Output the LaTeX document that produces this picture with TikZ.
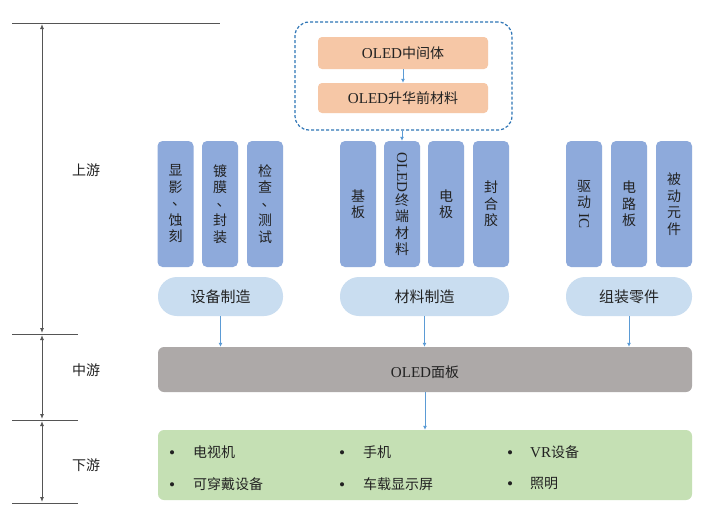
\documentclass[tikz,border=0pt]{standalone}
\usepackage{fontspec}
\setmainfont{Liberation Serif}
\newfontfamily\cjk{Noto Sans CJK SC}
\newfontfamily\lat[Scale=1.08]{Liberation Serif}
\usetikzlibrary{arrows.meta}
\definecolor{boxblue}{HTML}{8EAADB}
\definecolor{pillblue}{HTML}{C9DDF0}
\definecolor{peach}{HTML}{F6C7A6}
\definecolor{panelgray}{HTML}{ADA9A8}
\definecolor{leafgreen}{HTML}{C5E0B4}
\definecolor{dashblue}{HTML}{2E75B6}
\definecolor{arrowblue}{HTML}{5B9BD5}
\definecolor{ink}{HTML}{222222}
\definecolor{axisgray}{HTML}{555555}
\newcommand{\vcomma}{\raisebox{3pt}{\hspace{7pt}、}}
\newcommand{\bul}{\raisebox{-1pt}{\fontsize{16}{17}\selectfont\lat •}}
\tikzset{
  vbox/.style={fill=boxblue, rounded corners=5pt, minimum width=36pt, minimum height=126pt,
    inner sep=0pt, align=center, text=ink, font=\fontsize{14}{16.5}\selectfont\cjk},
  pill/.style={fill=pillblue, rounded corners=19pt, minimum height=39pt, inner sep=0pt,
    text=ink, font=\fontsize{15}{18}\selectfont\cjk},
  peachbox/.style={fill=peach, rounded corners=4pt, minimum width=170pt, inner sep=0pt,
    text=ink, font=\fontsize{14}{17}\selectfont\cjk},
  panel/.style={rounded corners=6pt, minimum width=534pt, inner sep=0pt, text=ink,
    font=\fontsize{14}{17}\selectfont\cjk},
  item/.style={anchor=west, inner sep=0pt, text=ink, font=\fontsize{14}{17}\selectfont\cjk},
  stage/.style={inner sep=0pt, text=ink, font=\fontsize{14}{17}\selectfont\cjk},
  flow/.style={draw=arrowblue, line width=0.8pt, -{Latex[length=4pt,width=4pt]}},
  axis/.style={draw=axisgray, line width=0.9pt, {Latex[length=5pt,width=4pt]}-{Latex[length=5pt,width=4pt]}},
  rule/.style={draw=axisgray, line width=0.9pt},
}
\begin{document}
\begin{tikzpicture}[x=1pt,y=-1pt]
\useasboundingbox[fill=white] (0,0) rectangle (704,506);

% axis on the left
\coordinate (t0) at (12,23);  \coordinate (t1) at (220,23);
\coordinate (m0) at (12,334); \coordinate (m1) at (78,334);
\coordinate (d0) at (12,420); \coordinate (d1) at (78,420);
\coordinate (e0) at (12,503); \coordinate (e1) at (78,503);
\draw[rule] (t0) -- (t1);
\draw[rule] (m0) -- (m1);
\draw[rule] (d0) -- (d1);
\draw[rule] (e0) -- (e1);
\coordinate (u1) at (42,24);  \coordinate (u2) at (42,333);
\coordinate (v1) at (42,335); \coordinate (v2) at (42,419);
\coordinate (w1) at (42,421); \coordinate (w2) at (42,502);
\draw[axis] (u1) -- (u2);
\draw[axis] (v1) -- (v2);
\draw[axis] (w1) -- (w2);
\node[stage] (up) at (86,170) {上游};
\node[stage] (mid) at (86,370) {中游};
\node[stage] (down) at (86,465) {下游};

% top dashed group
\node[draw=dashblue, line width=1.2pt, dash pattern=on 3pt off 2pt, rounded corners=14pt,
  minimum width=217pt, minimum height=108pt] (grp) at (403.5,76) {};
\node[peachbox, minimum height=32pt] (inter) at (403,53) {{\lat OLED}中间体};
\node[peachbox, minimum height=30pt] (pre) at (403,98) {{\lat OLED}升华前材料};
\draw[flow] (inter) -- (pre);

% upstream boxes
\node[vbox] (a1) at (175.5,204) {显\\影\\\vcomma\\蚀\\刻};
\node[vbox] (a2) at (220,204) {镀\\膜\\\vcomma\\封\\装};
\node[vbox] (a3) at (265,204) {检\\查\\\vcomma\\测\\试};
\node[vbox] (b1) at (358,204) {基\\板};
\node[vbox] (b2) at (402,204) {\raisebox{2pt}{\rotatebox{-90}{\lat OLED}}\\终\\端\\材\\料};
\node[vbox] (b3) at (446,204) {电\\极};
\node[vbox] (b4) at (491,204) {封\\合\\胶};
\node[vbox] (c1) at (584,204) {驱\\动\\\raisebox{11pt}{\rotatebox{-90}{\lat IC}}};
\node[vbox] (c2) at (629,204) {电\\路\\板};
\node[vbox] (c3) at (674,204) {被\\动\\元\\件};
\draw[flow] (grp.south -| b2) -- (b2.north);

% pills
\node[pill, minimum width=125pt] (p1) at (220.5,296.5) {设备制造};
\node[pill, minimum width=169pt] (p2) at (424.5,296.5) {材料制造};
\node[pill, minimum width=126pt] (p3) at (629,296.5) {组装零件};

% midstream
\node[panel, fill=panelgray, minimum height=45pt] (panel) at (425,369.5) {};
\node[stage] (paneltxt) at (425,372) {{\lat OLED}面板};
\draw[flow] (p1.south) -- (p1.south |- panel.north);
\draw[flow] (p2.south) -- (p2.south |- panel.north);
\draw[flow] (p3.south) -- (p3.south |- panel.north);

% downstream
\node[panel, fill=leafgreen, minimum height=70pt] (apps) at (425,465) {};
\draw[flow] (panel.south) -- (apps.north);
\node[item] (i1) at (169,452) {\makebox[24pt][l]{\bul}电视机};
\node[item] (i2) at (169,484) {\makebox[24pt][l]{\bul}可穿戴设备};
\node[item] (i3) at (339,452) {\makebox[24pt][l]{\bul}手机};
\node[item] (i4) at (339,484) {\makebox[24pt][l]{\bul}车载显示屏};
\node[item] (i5) at (507,452) {\makebox[23pt][l]{\bul}{\lat VR}设备};
\node[item] (i6) at (507,484) {\makebox[23pt][l]{\bul}照明};
\end{tikzpicture}
\end{document}
